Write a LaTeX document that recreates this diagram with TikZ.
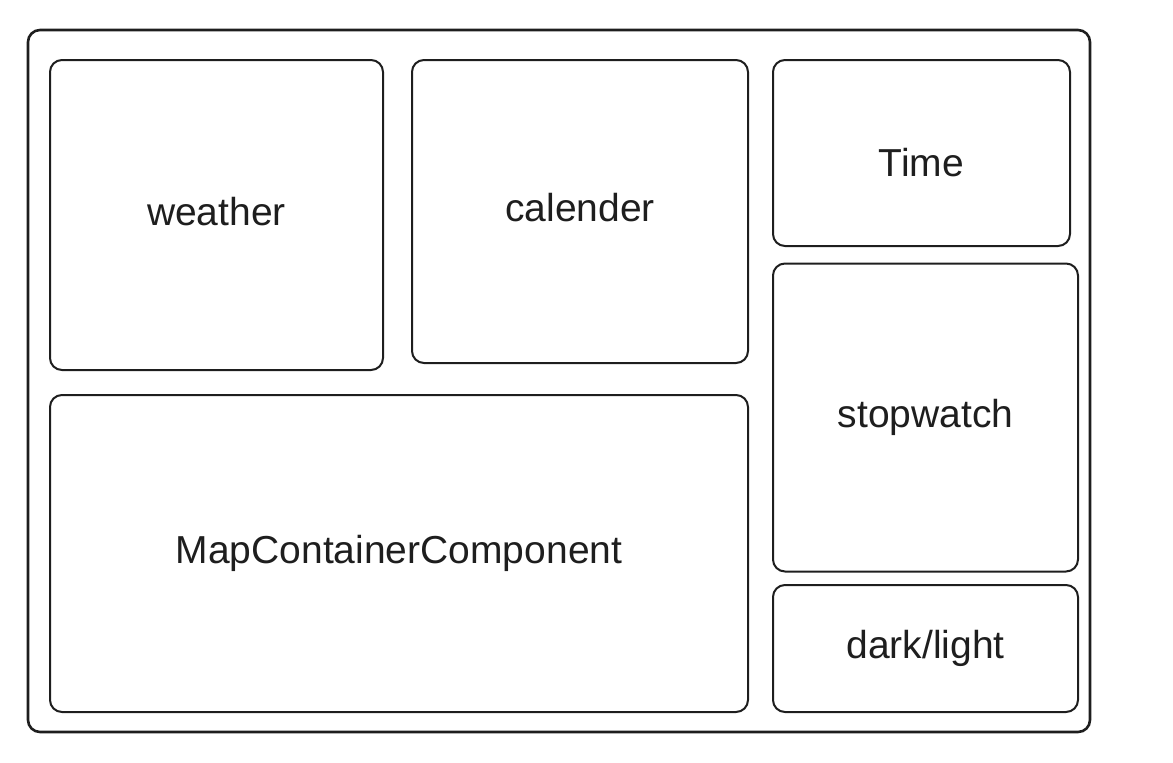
\documentclass[tikz,border=0pt]{standalone}
\usepackage{fontspec}
\setmainfont{Liberation Sans}
\definecolor{ink}{HTML}{1E1E1E}
\begin{document}
\begin{tikzpicture}[x=0.5pt, y=-0.5pt, line width=1pt, every node/.style={draw=ink, text=ink, rectangle, rounded corners=6pt, inner sep=0pt, text height=14pt, text depth=4pt, font=\fontsize{19.5}{23}\selectfont}]

            \useasboundingbox (0,0) rectangle (1173,762);

            % Outer frame
            \node[line width=1.3pt, minimum width=531pt, minimum height=351pt] (frame) at (559,381) {};

            % Panels
            \node[minimum width=166.5pt, minimum height=155pt] (weather) at (216.5,215) {weather};
            \node[minimum width=168pt, minimum height=151.5pt] (calender) at (580,211.5) {calender};
            \node[minimum width=148.5pt, minimum height=93pt, text height=27pt] (time) at (921.5,153) {Time};
            \node[minimum width=152.5pt, minimum height=154pt] (stopwatch) at (925.5,417.5) {stopwatch};
            \node[minimum width=152.5pt, minimum height=63.5pt] (darklight) at (925.5,648.5) {dark/light};
            \node[minimum width=349pt, minimum height=158.5pt] (map) at (399,553.5) {MapContainerComponent};
          \end{tikzpicture}
\end{document}
